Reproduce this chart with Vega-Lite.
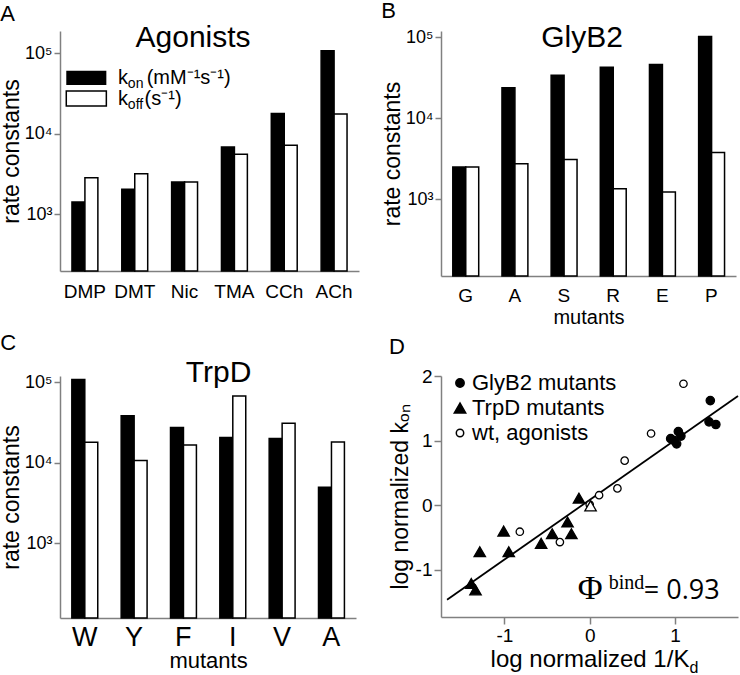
{
  "$schema": "https://vega.github.io/schema/vega-lite/v6.json",
  "padding": {"left": 0, "top": 0, "right": 0, "bottom": 0},
  "config": {
    "font": "Liberation Sans",
    "view": {"stroke": null},
    "axis": {"domainColor": "#808080", "tickColor": "#808080", "domainWidth": 1.5, "tickWidth": 1.5, "grid": false, "labelColor": "black", "titleColor": "black", "titleFontWeight": "normal", "labelFont": "Liberation Sans", "titleFont": "Liberation Sans"},
    "title": {"fontWeight": "normal", "fontSize": 22, "anchor": "start", "frame": "bounds", "color": "black"},
    "legend": {"labelFont": "Liberation Sans"}
  },
  "datasets": {
    "agonists": [
      {"compound": "DMP", "constant": "kon", "value": 1420}, {"compound": "DMP", "constant": "koff", "value": 2850},
      {"compound": "DMT", "constant": "kon", "value": 2050}, {"compound": "DMT", "constant": "koff", "value": 3200},
      {"compound": "Nic", "constant": "kon", "value": 2520}, {"compound": "Nic", "constant": "koff", "value": 2520},
      {"compound": "TMA", "constant": "kon", "value": 6880}, {"compound": "TMA", "constant": "koff", "value": 5580},
      {"compound": "CCh", "constant": "kon", "value": 17900}, {"compound": "CCh", "constant": "koff", "value": 7230},
      {"compound": "ACh", "constant": "kon", "value": 108000}, {"compound": "ACh", "constant": "koff", "value": 17600}
    ],
    "glyb2": [
      {"mutant": "G", "constant": "kon", "value": 2500}, {"mutant": "G", "constant": "koff", "value": 2500},
      {"mutant": "A", "constant": "kon", "value": 23700}, {"mutant": "A", "constant": "koff", "value": 2740},
      {"mutant": "S", "constant": "kon", "value": 33700}, {"mutant": "S", "constant": "koff", "value": 3110},
      {"mutant": "R", "constant": "kon", "value": 42300}, {"mutant": "R", "constant": "koff", "value": 1350},
      {"mutant": "E", "constant": "kon", "value": 46000}, {"mutant": "E", "constant": "koff", "value": 1230},
      {"mutant": "P", "constant": "kon", "value": 101600}, {"mutant": "P", "constant": "koff", "value": 3790}
    ],
    "trpd": [
      {"mutant": "W", "constant": "kon", "value": 109000}, {"mutant": "W", "constant": "koff", "value": 18000},
      {"mutant": "Y", "constant": "kon", "value": 38500}, {"mutant": "Y", "constant": "koff", "value": 10700},
      {"mutant": "F", "constant": "kon", "value": 27400}, {"mutant": "F", "constant": "koff", "value": 16700},
      {"mutant": "I", "constant": "kon", "value": 20600}, {"mutant": "I", "constant": "koff", "value": 67800},
      {"mutant": "V", "constant": "kon", "value": 20100}, {"mutant": "V", "constant": "koff", "value": 31000},
      {"mutant": "A", "constant": "kon", "value": 4970}, {"mutant": "A", "constant": "koff", "value": 18200}
    ],
    "binding": [
      {"group": "GlyB2 mutants", "invKd": 1.04, "kon": 1.14},
      {"group": "GlyB2 mutants", "invKd": 1.07, "kon": 1.07},
      {"group": "GlyB2 mutants", "invKd": 0.95, "kon": 1.03},
      {"group": "GlyB2 mutants", "invKd": 0.99, "kon": 1.0},
      {"group": "GlyB2 mutants", "invKd": 1.02, "kon": 0.95},
      {"group": "GlyB2 mutants", "invKd": 1.415, "kon": 1.62},
      {"group": "GlyB2 mutants", "invKd": 1.4, "kon": 1.29},
      {"group": "GlyB2 mutants", "invKd": 1.48, "kon": 1.25},
      {"group": "TrpD mutants", "invKd": -0.126, "kon": 0.11},
      {"group": "TrpD mutants", "invKd": -0.26, "kon": -0.26},
      {"group": "TrpD mutants", "invKd": -0.215, "kon": -0.44},
      {"group": "TrpD mutants", "invKd": -0.44, "kon": -0.44},
      {"group": "TrpD mutants", "invKd": -0.57, "kon": -0.59},
      {"group": "TrpD mutants", "invKd": -1.01, "kon": -0.4},
      {"group": "TrpD mutants", "invKd": -1.29, "kon": -0.72},
      {"group": "TrpD mutants", "invKd": -0.95, "kon": -0.72},
      {"group": "TrpD mutants", "invKd": -1.39, "kon": -1.21},
      {"group": "TrpD mutants", "invKd": -1.34, "kon": -1.31},
      {"group": "wt, agonists", "invKd": 1.1, "kon": 1.88},
      {"group": "wt, agonists", "invKd": 0.72, "kon": 1.11},
      {"group": "wt, agonists", "invKd": 0.41, "kon": 0.69},
      {"group": "wt, agonists", "invKd": 0.325, "kon": 0.26},
      {"group": "wt, agonists", "invKd": 0.11, "kon": 0.155},
      {"group": "wt, agonists", "invKd": 0.0, "kon": 0.01},
      {"group": "wt, agonists", "invKd": -0.35, "kon": -0.57},
      {"group": "wt, agonists", "invKd": -0.82, "kon": -0.41}
    ],
    "trpdwt": [{"invKd": 0.01, "kon": -0.01}],
    "fit": [{"invKd": -1.674, "kon": -1.464}, {"invKd": 1.74, "kon": 1.69}]
  },
  "columns": 2,
  "spacing": {"row": 100, "column": 82},
  "bounds": "flush",
  "resolve": {"scale": {"fill": "independent", "shape": "independent", "size": "independent"}, "legend": {"fill": "independent", "shape": "independent", "size": "independent"}},
  "concat": [
    {
      "width": 299, "height": 240,
      "title": {"text": "A", "offset": -3},
      "resolve": {"scale": {"x": "independent"}, "axis": {"x": "independent"}},
      "layer": [
        {
          "data": {"name": "agonists"},
          "mark": {"type": "bar", "stroke": "black", "strokeWidth": 1.5},
          "encoding": {
            "x": {"field": "compound", "type": "nominal", "sort": ["DMP", "DMT", "Nic", "TMA", "CCh", "ACh"], "scale": {"paddingInner": 0.48, "paddingOuter": 0.24}, "axis": {"title": null, "labelAngle": 0, "ticks": false, "labelFontSize": 19, "labelPadding": 11}},
            "xOffset": {"field": "constant", "type": "nominal", "sort": ["kon", "koff"], "scale": {"paddingInner": 0, "paddingOuter": 0}},
            "y": {"field": "value", "type": "quantitative", "stack": null, "scale": {"type": "log", "domain": [197, 190000], "nice": false}, "axis": {"values": [1000, 10000, 100000], "labelExpr": "datum.value === 1000 ? '10³' : datum.value === 10000 ? '10⁴' : '10⁵'", "title": "rate constants", "titleFontSize": 23, "labelFontSize": 18, "tickSize": 6, "labelPadding": 2, "titlePadding": 1}},
            "y2": {"datum": 197},
            "fill": {"field": "constant", "type": "nominal", "scale": {"domain": ["kon", "koff"], "range": ["black", "white"]}, "legend": null}
          }
        },
        {
          "data": {"values": [{}]},
          "layer": [
            {"mark": {"type": "text", "fontSize": 30, "align": "center", "baseline": "alphabetic"},
             "encoding": {"x": {"datum": 0.445, "type": "quantitative", "scale": {"domain": [0, 1]}, "axis": null}, "y": {"datum": 121000, "type": "quantitative"}, "text": {"value": "Agonists"}}},
            {"mark": {"type": "rect", "fill": "black"},
             "encoding": {"x": {"datum": 0.021, "type": "quantitative"}, "x2": {"datum": 0.155}, "y": {"datum": 40360, "type": "quantitative"}, "y2": {"datum": 60950}}},
            {"mark": {"type": "rect", "fill": "white", "stroke": "black", "strokeWidth": 1.5},
             "encoding": {"x": {"datum": 0.021, "type": "quantitative"}, "x2": {"datum": 0.155}, "y": {"datum": 22130, "type": "quantitative"}, "y2": {"datum": 34040}}},
            {"mark": {"type": "text", "fontSize": 20, "align": "left", "baseline": "alphabetic"},
             "encoding": {"x": {"datum": 0.194, "type": "quantitative"}, "y": {"datum": 41970, "type": "quantitative"}, "text": {"value": "k"}}},
            {"mark": {"type": "text", "fontSize": 14, "align": "left", "baseline": "alphabetic"},
             "encoding": {"x": {"datum": 0.227, "type": "quantitative"}, "y": {"datum": 37410, "type": "quantitative"}, "text": {"value": "on"}}},
            {"mark": {"type": "text", "fontSize": 20, "align": "left", "baseline": "alphabetic"},
             "encoding": {"x": {"datum": 0.29, "type": "quantitative"}, "y": {"datum": 41970, "type": "quantitative"}, "text": {"value": "(mM⁻¹s⁻¹)"}}},
            {"mark": {"type": "text", "fontSize": 20, "align": "left", "baseline": "alphabetic"},
             "encoding": {"x": {"datum": 0.194, "type": "quantitative"}, "y": {"datum": 22960, "type": "quantitative"}, "text": {"value": "k"}}},
            {"mark": {"type": "text", "fontSize": 14, "align": "left", "baseline": "alphabetic"},
             "encoding": {"x": {"datum": 0.227, "type": "quantitative"}, "y": {"datum": 20460, "type": "quantitative"}, "text": {"value": "off"}}},
            {"mark": {"type": "text", "fontSize": 20, "align": "left", "baseline": "alphabetic"},
             "encoding": {"x": {"datum": 0.283, "type": "quantitative"}, "y": {"datum": 22960, "type": "quantitative"}, "text": {"value": "(s⁻¹)"}}}
          ]
        }
      ]
    },
    {
      "width": 295, "height": 245,
      "title": {"text": "B", "offset": 0},
      "resolve": {"scale": {"x": "independent"}, "axis": {"x": "independent"}},
      "layer": [
        {
          "data": {"name": "glyb2"},
          "mark": {"type": "bar", "stroke": "black", "strokeWidth": 1.5},
          "encoding": {
            "x": {"field": "mutant", "type": "nominal", "sort": ["G", "A", "S", "R", "E", "P"], "scale": {"paddingInner": 0.48, "paddingOuter": 0.24}, "axis": {"title": "mutants", "titleFontSize": 20, "titlePadding": 2, "labelAngle": 0, "ticks": false, "labelFontSize": 19, "labelPadding": 10}},
            "xOffset": {"field": "constant", "type": "nominal", "sort": ["kon", "koff"], "scale": {"paddingInner": 0, "paddingOuter": 0}},
            "y": {"field": "value", "type": "quantitative", "stack": null, "scale": {"type": "log", "domain": [114, 118600], "nice": false}, "axis": {"values": [1000, 10000, 100000], "labelExpr": "datum.value === 1000 ? '10³' : datum.value === 10000 ? '10⁴' : '10⁵'", "title": "rate constants", "titleFontSize": 23, "labelFontSize": 18, "tickSize": 6, "labelPadding": 2, "titlePadding": 1}},
            "y2": {"datum": 114},
            "fill": {"field": "constant", "type": "nominal", "scale": {"domain": ["kon", "koff"], "range": ["black", "white"]}, "legend": null}
          }
        },
        {
          "data": {"values": [{}]},
          "mark": {"type": "text", "fontSize": 30, "align": "center", "baseline": "alphabetic"},
          "encoding": {"x": {"datum": 0.478, "type": "quantitative", "scale": {"domain": [0, 1]}, "axis": null}, "y": {"datum": 75300, "type": "quantitative"}, "text": {"value": "GlyB2"}}
        }
      ]
    },
    {
      "width": 296, "height": 242,
      "title": {"text": "C", "offset": 3},
      "resolve": {"scale": {"x": "independent"}, "axis": {"x": "independent"}},
      "layer": [
        {
          "data": {"name": "trpd"},
          "mark": {"type": "bar", "stroke": "black", "strokeWidth": 1.5},
          "encoding": {
            "x": {"field": "mutant", "type": "nominal", "sort": ["W", "Y", "F", "I", "V", "A"], "scale": {"paddingInner": 0.48, "paddingOuter": 0.24}, "axis": {"title": "mutants", "titleFontSize": 22, "titlePadding": 0, "labelAngle": 0, "ticks": false, "labelFontSize": 27, "labelPadding": 6}},
            "xOffset": {"field": "constant", "type": "nominal", "sort": ["kon", "koff"], "scale": {"paddingInner": 0, "paddingOuter": 0}},
            "y": {"field": "value", "type": "quantitative", "stack": null, "scale": {"type": "log", "domain": [117, 120200], "nice": false}, "axis": {"values": [1000, 10000, 100000], "labelExpr": "datum.value === 1000 ? '10³' : datum.value === 10000 ? '10⁴' : '10⁵'", "title": "rate constants", "titleFontSize": 23, "labelFontSize": 18, "tickSize": 6, "labelPadding": 2, "titlePadding": 1}},
            "y2": {"datum": 117},
            "fill": {"field": "constant", "type": "nominal", "scale": {"domain": ["kon", "koff"], "range": ["black", "white"]}, "legend": null}
          }
        },
        {
          "data": {"values": [{}]},
          "mark": {"type": "text", "fontSize": 30, "align": "center", "baseline": "alphabetic"},
          "encoding": {"x": {"datum": 0.536, "type": "quantitative", "scale": {"domain": [0, 1]}, "axis": null}, "y": {"datum": 102000, "type": "quantitative"}, "text": {"value": "TrpD"}}
        }
      ]
    },
    {
      "width": 297, "height": 241,
      "title": {"text": "D", "offset": 8},
      "layer": [
        {
          "data": {"name": "fit"},
          "mark": {"type": "line", "color": "black", "strokeWidth": 1.8},
          "encoding": {
            "x": {"field": "invKd", "type": "quantitative", "scale": {"domain": [-1.745, 1.74], "nice": false}, "axis": {"values": [-1, 0, 1], "labelExpr": "'' + datum.value", "title": "log normalized 1/K", "titleFontSize": 24, "titlePadding": 2, "labelFontSize": 19, "tickSize": 7, "labelPadding": 2, "labelFlush": false}},
            "y": {"field": "kon", "type": "quantitative", "scale": {"domain": [-1.73, 2.0], "nice": false}, "axis": {"values": [-1, 0, 1, 2], "labelExpr": "'' + datum.value", "title": "log normalized kₒₙ", "titleFontSize": 23, "titlePadding": 3, "labelFontSize": 19, "tickSize": 7, "labelPadding": 2, "labelFlush": false}}
          }
        },
        {
          "data": {"name": "binding"},
          "mark": {"type": "point", "stroke": "black", "strokeWidth": 1.3, "opacity": 1},
          "encoding": {
            "x": {"field": "invKd", "type": "quantitative"},
            "y": {"field": "kon", "type": "quantitative"},
            "shape": {"field": "group", "type": "nominal", "scale": {"domain": ["GlyB2 mutants", "TrpD mutants", "wt, agonists"], "range": ["circle", "triangle-up", "circle"]}, "legend": {"title": null, "orient": "none", "legendX": 8, "legendY": -4, "labelFontSize": 22, "labelOffset": 1, "rowPadding": 3, "encode": {"symbols": {"update": {"stroke": {"value": "black"}, "strokeWidth": {"value": 1.3}}}}}},
            "fill": {"field": "group", "type": "nominal", "scale": {"domain": ["GlyB2 mutants", "TrpD mutants", "wt, agonists"], "range": ["black", "black", "white"]}, "legend": {"title": null, "orient": "none", "legendX": 8, "legendY": -4, "labelFontSize": 22, "labelOffset": 1, "rowPadding": 3, "encode": {"symbols": {"update": {"stroke": {"value": "black"}, "strokeWidth": {"value": 1.3}}}}}},
            "size": {"field": "group", "type": "nominal", "scale": {"type": "ordinal", "domain": ["GlyB2 mutants", "TrpD mutants", "wt, agonists"], "range": [70, 130, 55]}, "legend": {"title": null, "orient": "none", "legendX": 8, "legendY": -4, "labelFontSize": 22, "labelOffset": 1, "rowPadding": 3, "encode": {"symbols": {"update": {"stroke": {"value": "black"}, "strokeWidth": {"value": 1.3}}}}}}
          }
        },
        {
          "data": {"name": "trpdwt"},
          "mark": {"type": "point", "shape": "triangle-up", "fill": "white", "stroke": "black", "strokeWidth": 1.3, "size": 130, "opacity": 1},
          "encoding": {"x": {"field": "invKd", "type": "quantitative"}, "y": {"field": "kon", "type": "quantitative"}}
        },
        {
          "data": {"values": [{}]},
          "layer": [
            {"mark": {"type": "text", "font": "Liberation Serif", "fontSize": 34, "align": "left", "baseline": "alphabetic"},
             "encoding": {"x": {"datum": -0.14}, "y": {"datum": -1.444}, "text": {"value": "Φ"}}},
            {"mark": {"type": "text", "font": "Liberation Serif", "fontSize": 20, "align": "left", "baseline": "alphabetic"},
             "encoding": {"x": {"datum": 0.224}, "y": {"datum": -1.289}, "text": {"value": "bind"}}},
            {"mark": {"type": "text", "font": "Open Sans", "fontSize": 27, "align": "left", "baseline": "alphabetic"},
             "encoding": {"x": {"datum": 0.635}, "y": {"datum": -1.444}, "text": {"value": "= 0.93"}}},
            {"mark": {"type": "text", "fontSize": 16, "align": "left", "baseline": "alphabetic"},
             "encoding": {"x": {"datum": 1.17}, "y": {"datum": -2.6}, "text": {"value": "d"}}}
          ]
        }
      ]
    }
  ]
}
